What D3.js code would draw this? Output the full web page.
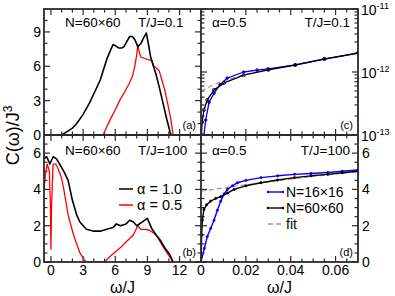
<!DOCTYPE html>
<html><head><meta charset="utf-8">
<script src="https://cdn.jsdelivr.net/npm/d3@7"></script>
<style>body{margin:0;background:#fff}svg{display:block}text{font-family:"Liberation Sans",Arial,sans-serif}</style>
</head><body><svg id="c" width="395" height="296"></svg>
<script>
// ---- data ----
const aBlackW=[1.0,1.5,2.0,2.4,3.0,3.6,4.1,4.6,5.2,5.6,5.8,6.0,6.3,6.6,6.8,7.1,7.35,7.6,7.85,8.1,8.4,8.65,8.9,9.1,9.3,9.6,9.8,10.1,10.4,10.8,11.1,11.2];
const aBlackC=[0,0.3,0.6,1.0,1.8,2.8,3.8,4.8,6.6,7.5,7.9,7.8,7.6,7.6,7.7,8.2,8.6,8.6,8.3,7.7,8.0,8.5,8.9,7.9,6.8,5.9,5.3,4.2,3.0,1.4,0.3,0];
const aRedW=[4.85,5.2,5.5,6.0,6.4,6.9,7.3,7.6,7.8,8.0,8.1,8.25,8.4,8.7,9.0,9.4,9.6,9.9,10.1,10.35,10.6,10.9,11.2,11.4];
const aRedC=[0,0.7,1.3,2.2,3.0,3.8,4.5,5.1,5.9,7.0,7.8,7.2,6.8,6.7,6.6,6.5,6.0,5.8,5.6,4.8,4.0,2.7,1.3,0];
const bBlackW=[-0.65,-0.4,-0.1,0.2,0.5,0.8,1.2,1.6,2.0,2.4,2.7,3.3,4.0,4.6,5.2,5.8,6.1,6.5,7.0,7.35,7.7,8.0,8.5,9.0,9.4,9.8,10.2,10.6,11.1,11.4];
const bBlackC=[5.7,5.8,5.4,5.8,5.7,5.4,5.0,4.5,3.4,2.6,2.2,1.8,1.7,1.7,1.8,1.9,2.1,2.0,2.1,2.3,2.2,2.0,2.2,2.4,1.85,1.5,1.2,0.8,0.4,0];
const bRedW=[-0.65,-0.5,-0.35,-0.15,-0.05,0.0,0.05,0.2,0.45,0.7,1.0,1.2,1.6,2.1,2.7,3.2,3.3,5.0,5.5,6.1,6.6,7.0,7.7,8.1,8.4,8.8,9.2,9.8,10.4,11.1,11.4];
const bRedC=[4.0,4.9,5.4,5.0,3.0,0.7,3.0,5.4,5.4,5.1,4.6,4.0,2.6,1.5,0.5,0.05,0,0,0.3,0.6,0.85,1.1,1.5,2.0,1.8,1.8,1.75,1.5,0.9,0.25,0];
const cBlackW=[0.0002,0.0005,0.0013,0.0028,0.0058,0.0103,0.019,0.03,0.042,0.055,0.07];
const cBlackC=[1e-13,1.6e-13,2.5e-13,3.6e-13,5.2e-13,6.7e-13,8.9e-13,1.08e-12,1.29e-12,1.6e-12,2.0e-12];
const cBlueW=[0.0013,0.0021,0.0036,0.0058,0.0085,0.0117,0.019,0.025,0.03,0.042,0.055,0.07];
const cBlueC=[1e-13,1.73e-13,3.3e-13,4.6e-13,6.3e-13,8.0e-13,1.0e-12,1.07e-12,1.12e-12,1.3e-12,1.62e-12,2.0e-12];
const cFitW=[0,0.005,0.01,0.02,0.03,0.04,0.05,0.06,0.07];
const cFitC=[5.0e-13,6.1e-13,7.2e-13,9.2e-13,1.1e-12,1.28e-12,1.48e-12,1.72e-12,2.0e-12];
const dBlackW=[0,0.0003,0.0006,0.0013,0.0025,0.0043,0.0065,0.0088,0.0118,0.0148,0.02,0.0268,0.0342,0.0417,0.049,0.0565,0.063,0.07];
const dBlackC=[0,1.5,2.3,2.9,3.15,3.35,3.5,3.6,3.8,4.0,4.2,4.37,4.52,4.65,4.75,4.83,4.92,5.0];
const dBlueW=[0,0.0015,0.0028,0.0043,0.0058,0.0073,0.0088,0.0103,0.0118,0.014,0.0163,0.02,0.0268,0.0342,0.0417,0.049,0.0565,0.063,0.07];
const dBlueC=[0,0.75,1.4,1.85,2.3,2.85,3.35,3.75,4.0,4.2,4.37,4.5,4.65,4.75,4.83,4.88,4.93,5.0,5.07];
const dFitW=[0,0.01,0.02,0.03,0.04,0.05,0.06,0.07];
const dFitC=[3.9,4.08,4.25,4.42,4.57,4.72,4.85,4.97];
const leftXTicks=[0,3,6,9,12];
const rightXTicks=[0,0.02,0.04,0.06];
const aYTicks=[0,3,6,9];
const bYTicks=[0,2,4,6];
const cYTicks=[1e-13,1e-12,1e-11];
const legendB=["α = 1.0","α = 0.5"];
const legendD=["N=16×16","N=60×60","fit"];

// ---- layout ----
const svg=d3.select("#c");
const L=44,M=201,R=358,T=9,H=135,B=262;
const xL=d3.scaleLinear().domain([-0.65,14]).range([L,M]);
const xR=d3.scaleLinear().domain([0,0.07]).range([M,R]);
const yA=d3.scaleLinear().domain([0,11]).range([H,T]);
const yB=d3.scaleLinear().domain([0,7]).range([B,H]);
const yC=d3.scaleLog().domain([1e-13,1e-11]).range([H,T]);
const yD=d3.scaleLinear().domain([0,7]).range([B,H]);
const FR="#2a2a2a";

function clipRect(id,x0,y0,x1,y1){svg.append("clipPath").attr("id",id).append("rect").attr("x",x0).attr("y",y0).attr("width",x1-x0).attr("height",y1-y0);}
clipRect("ca",L,T,M,H);clipRect("cb",L,H,M,B);clipRect("cc",M,T,R,H);clipRect("cd",M,H,R,B);

function line(x,y,W,C,clip,color,w,dash){
  const data=W.map((v,i)=>[v,C[i]]);
  svg.append("path").attr("clip-path","url(#"+clip+")").attr("d",d3.line().x(d=>x(d[0])).y(d=>y(d[1]))(data))
   .attr("fill","none").attr("stroke",color).attr("stroke-width",w).attr("stroke-dasharray",dash||null).attr("stroke-linejoin","round");
}
function markers(x,y,W,C,clip,color,r,open){
  svg.append("g").attr("clip-path","url(#"+clip+")").selectAll("circle").data(W.map((v,i)=>[v,C[i]])).join("circle")
   .attr("cx",d=>x(d[0])).attr("cy",d=>y(d[1])).attr("r",r)
   .attr("fill",open?"none":color).attr("stroke",color).attr("stroke-width",0.8);
}
function ticksX(x,vals,y0,dir,len){
  svg.append("g").selectAll("line").data(vals).join("line")
   .attr("x1",d=>x(d)).attr("x2",d=>x(d)).attr("y1",y0).attr("y2",y0+dir*len).attr("stroke",FR).attr("stroke-width",1.2);
}
function ticksY(y,vals,x0,dir,len){
  svg.append("g").selectAll("line").data(vals).join("line")
   .attr("y1",d=>y(d)).attr("y2",d=>y(d)).attr("x1",x0).attr("x2",x0+dir*len).attr("stroke",FR).attr("stroke-width",1.2);
}
const MJ=6,MN=3.5;
const lxMajor=d3.range(0,13,3), lxMinor=d3.range(0,14,1).filter(v=>v%3!==0);
const rxMajor=[0,0.02,0.04,0.06], rxMinor=d3.range(0.005,0.07,0.005).filter(v=>Math.abs(v/0.02-Math.round(v/0.02))>1e-6);
[[T,1],[H,-1],[H,1],[B,-1]].forEach(([y0,dir])=>{ticksX(xL,lxMajor,y0,dir,MJ);ticksX(xL,lxMinor,y0,dir,MN);});
[[T,1],[H,-1],[H,1],[B,-1]].forEach(([y0,dir])=>{ticksX(xR,rxMajor,y0,dir,MJ);ticksX(xR,rxMinor,y0,dir,MN);});
[[L,1],[M,-1]].forEach(([x0,dir])=>{ticksY(yA,[0,3,6,9],x0,dir,MJ);ticksY(yA,[1,2,4,5,7,8,10],x0,dir,MN);});
[[L,1],[M,-1]].forEach(([x0,dir])=>{ticksY(yB,[0,2,4,6],x0,dir,MJ);ticksY(yB,d3.range(0.5,7,0.5).filter(v=>v%2!==0),x0,dir,MN);});
const cMinor=[];[1e-13,1e-12].forEach(b=>{for(let k=2;k<=9;k++)cMinor.push(b*k);});
[[M,1],[R,-1]].forEach(([x0,dir])=>{ticksY(yC,cYTicks,x0,dir,MJ);ticksY(yC,cMinor,x0,dir,MN);});
[[M,1],[R,-1]].forEach(([x0,dir])=>{ticksY(yD,[0,2,4,6],x0,dir,MJ);ticksY(yD,d3.range(0.5,7,0.5).filter(v=>v%2!==0),x0,dir,MN);});

// curves
line(xL,yA,aRedW,aRedC,"ca","#ff0000",1.3);
line(xL,yA,aBlackW,aBlackC,"ca","#000",1.6);
line(xL,yB,bRedW,bRedC,"cb","#ff0000",1.3);
line(xL,yB,bBlackW,bBlackC,"cb","#000",1.6);
line(xR,yC,cFitW,cFitC,"cc","#c08a8a",1.2,"5,3");
line(xR,yC,cBlueW,cBlueC,"cc","#0000ff",1.3);
markers(xR,yC,cBlueW,cBlueC,"cc","#0000ff",1.3,false);
line(xR,yC,cBlackW,cBlackC,"cc","#000",1.3);
markers(xR,yC,cBlackW,cBlackC,"cc","#000",1.6,true);
line(xR,yD,dFitW,dFitC,"cd","#c08a8a",1.2,"5,3");
line(xR,yD,dBlueW,dBlueC,"cd","#0000ff",1.4);
markers(xR,yD,dBlueW,dBlueC,"cd","#0000ff",1.1,false);
line(xR,yD,dBlackW,dBlackC,"cd","#000",1.4);
markers(xR,yD,dBlackW,dBlackC,"cd","#000",1.1,false);

// frames
const fr=svg.append("g").attr("fill","none").attr("stroke",FR).attr("stroke-width",1.8);
fr.append("rect").attr("x",L).attr("y",T).attr("width",R-L).attr("height",B-T);
fr.append("line").attr("x1",L).attr("x2",R).attr("y1",H).attr("y2",H);
fr.append("line").attr("x1",M).attr("x2",M).attr("y1",T).attr("y2",B);

// tick labels
const TF=14;
function txt(x,y,s,anchor,size,fill){return svg.append("text").attr("x",x).attr("y",y).attr("text-anchor",anchor||"start").attr("font-size",size||TF).attr("fill",fill||"#000").text(s);}
aYTicks.forEach(v=>txt(L-3,yA(v)+5,v,"end"));
bYTicks.forEach(v=>txt(L-3,yB(v)+5,v,"end"));
leftXTicks.forEach(v=>txt(xL(v),B+13,v,"middle"));
rightXTicks.forEach(v=>txt(xR(v),B+13,v===0?"0":v.toFixed(2),"middle"));
bYTicks.forEach(v=>txt(R+4,yD(v)+5,v,"start"));
cYTicks.forEach(v=>{const t=txt(R+3,yC(v)+6,"10","start");t.append("tspan").attr("dy",-6).attr("font-size",9).text(String(Math.round(Math.log10(v))));});

// axis titles
txt((L+M)/2,293,"ω/J","middle",16);
txt((M+R)/2,293,"ω/J","middle",16);
const yl=svg.append("text").attr("transform","translate(19,"+((T+B)/2)+") rotate(-90)").attr("text-anchor","middle").attr("font-size",18).text("C(ω)/J");
yl.append("tspan").attr("dy",-7).attr("font-size",12).text("3");

// panel annotations
const PF=13.5;
txt(65,27,"N=60×60","start",PF);txt(138,27,"T/J=0.1","start",PF);
txt(65,155,"N=60×60","start",PF);txt(138,155,"T/J=100","start",PF);
txt(212,27,"α=0.5","start",PF);txt(350,27,"T/J=0.1","end",PF);
txt(212,155,"α=0.5","start",PF);txt(350,155,"T/J=100","end",PF);
txt(196,129,"(a)","end",11);txt(196,256,"(b)","end",11);
txt(353,129,"(c)","end",11);txt(353,256,"(d)","end",11);

// legend b
const lgColB=["#000","#ff0000"];
legendB.forEach((s,i)=>{const y=194+i*16;
  svg.append("line").attr("x1",119).attr("x2",133).attr("y1",y-5).attr("y2",y-5).attr("stroke",lgColB[i]).attr("stroke-width",1.5);
  txt(137,y,s,"start",14.5);});
// legend d
const lgColD=["#0000ff","#000","#c08a8a"];
legendD.forEach((s,i)=>{const y=197+i*16;
  svg.append("line").attr("x1",268).attr("x2",283).attr("y1",y-5).attr("y2",y-5).attr("stroke",lgColD[i]).attr("stroke-width",1.4).attr("stroke-dasharray",i===2?"5,3":null);
  if(i<2){[268,283].forEach(xx=>svg.append("circle").attr("cx",xx).attr("cy",y-5).attr("r",1.2).attr("fill",lgColD[i]));}
  txt(286,y,s,"start",14);});
</script></body></html>
